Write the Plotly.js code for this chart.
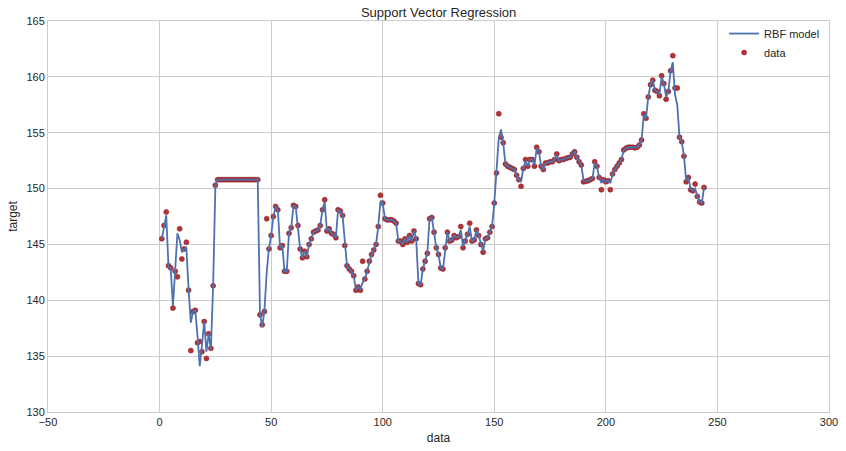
<!DOCTYPE html>
<html>
<head>
<meta charset="utf-8">
<script src="https://cdn.plot.ly/plotly-3.0.1.min.js"></script>
<style>html,body{margin:0;padding:0;background:#fff;}#chart{width:846px;height:451px;}</style>
</head>
<body>
<div id="chart"></div>
<script>
// x index of each sample
const xIndex = Array.from({length: 244}, (_, i) => i + 1);

// observed target values ("data")
const dataValues = [
145.5,146.7,147.9,143.1,142.9,139.3,142.6,142.1,146.4,143.7,
144.6,145.2,140.9,135.5,139.0,139.1,136.2,136.3,135.4,138.1,
134.8,137.0,135.7,141.3,150.3,150.8,150.8,150.8,150.8,150.8,
150.8,150.8,150.8,150.8,150.8,150.8,150.8,150.8,150.8,150.8,
150.8,150.8,150.8,150.8,138.7,137.8,139.0,147.3,144.6,145.8,
147.5,148.4,148.1,144.7,144.9,142.6,142.6,146.0,146.5,148.5,
148.4,146.7,144.6,143.8,144.4,143.9,145.0,145.5,146.1,146.2,
146.3,146.7,148.1,149.0,146.2,146.4,146.0,145.9,145.6,148.1,
148.0,147.6,144.9,143.1,142.8,142.6,142.2,140.9,141.2,140.9,
143.5,141.9,142.6,143.5,144.1,144.5,145.0,146.6,149.4,148.7,
147.3,147.2,147.2,147.2,147.1,146.9,145.3,145.3,145.0,145.5,
145.2,145.8,145.3,146.2,145.5,141.5,141.4,142.8,143.5,144.2,
147.3,147.4,146.1,144.7,144.1,142.9,142.8,144.7,146.1,145.3,
145.4,145.8,145.6,145.7,146.6,144.7,145.3,145.9,146.9,145.3,
145.4,146.3,145.8,145.0,144.3,145.5,145.6,146.1,146.6,148.7,
151.4,156.7,154.6,154.1,152.2,152.0,151.9,151.8,151.7,151.2,
150.8,150.2,151.8,152.6,152.0,152.6,152.6,152.0,153.7,153.3,
152.0,151.7,152.3,152.3,152.4,152.4,152.6,153.1,152.5,152.6,
152.6,152.7,152.75,152.8,153.1,153.3,152.8,152.4,152.1,150.6,
150.65,150.7,150.8,150.9,152.4,152.0,151.0,149.9,150.8,150.6,
150.7,149.9,151.3,151.7,152.0,152.3,152.6,153.45,153.6,153.7,
153.7,153.7,153.65,153.7,153.9,154.35,156.7,156.3,158.2,159.3,
159.7,158.8,158.7,158.3,160.1,159.4,158.0,158.7,160.55,161.9,
159.0,159.0,154.6,154.2,152.9,150.6,151.0,149.9,149.8,150.4,
149.3,148.8,148.7,150.1
];

// RBF model prediction at each sample
const modelValues = [
145.5,146.5,147.6,143.0,142.8,139.5,142.7,146.0,145.4,144.3,
144.6,144.7,141.0,138.0,139.0,139.1,136.8,134.1,136.0,138.1,
135.4,137.0,135.6,141.3,150.2,150.8,150.8,150.8,150.8,150.8,
150.8,150.8,150.8,150.8,150.8,150.8,150.8,150.8,150.8,150.8,
150.8,150.8,150.8,150.8,138.8,137.6,139.1,142.5,144.6,145.8,
147.5,148.4,148.1,144.7,144.9,142.6,142.6,146.0,146.5,148.5,
148.4,146.7,144.6,143.8,144.4,143.9,145.0,145.5,146.1,146.2,
146.3,146.7,148.1,148.8,146.2,146.4,146.0,145.9,145.6,148.1,
148.0,147.6,144.9,143.1,142.8,142.6,142.2,140.9,141.2,141.0,
141.6,141.9,142.6,143.5,144.1,144.5,145.0,146.6,148.9,148.7,
147.3,147.2,147.2,147.2,147.1,146.9,145.3,145.3,145.0,145.5,
145.2,145.8,145.3,146.2,145.5,141.5,141.4,142.8,143.5,144.2,
147.3,147.4,146.1,144.7,144.1,142.9,142.8,144.7,146.1,145.3,
145.4,145.8,145.6,145.7,146.3,144.8,145.3,145.9,146.6,145.3,
145.4,146.3,145.8,145.0,144.4,145.5,145.6,146.1,146.6,148.7,
151.3,154.5,155.3,154.1,152.2,152.0,151.9,151.8,151.7,151.2,
150.8,150.6,151.8,152.5,152.0,152.6,152.6,152.1,153.6,153.3,
152.0,151.7,152.3,152.3,152.4,152.4,152.6,153.0,152.5,152.6,
152.6,152.7,152.75,152.8,153.1,153.3,152.8,152.4,152.1,150.7,
150.65,150.7,150.8,150.9,152.3,152.0,151.0,150.5,150.8,150.6,
150.7,150.5,151.3,151.7,152.0,152.3,152.6,153.45,153.6,153.7,
153.7,153.7,153.65,153.7,153.9,154.35,156.6,156.3,158.2,159.3,
159.7,158.8,158.7,158.4,160.0,159.4,158.2,158.7,160.5,161.3,
158.4,157.5,154.6,154.2,152.9,150.7,151.0,150.0,149.8,150.0,
149.3,148.8,148.7,150.1
];

const xTicks = [-50, 0, 50, 100, 150, 200, 250, 300];
const yTicks = [130, 135, 140, 145, 150, 155, 160, 165];

const font = 'Liberation Sans, Arial, sans-serif';

const traces = [
  {
    x: xIndex, y: dataValues, type: 'scatter', mode: 'markers', name: 'data',
    legendrank: 2,
    marker: {color: '#b8302f', size: 5, line: {color: '#8a2630', width: 0.6}}
  },
  {
    x: xIndex, y: modelValues, type: 'scatter', mode: 'lines', name: 'RBF model',
    legendrank: 1,
    line: {color: '#4c72b0', width: 1.8}
  }
];

const layout = {
  width: 846, height: 451,
  margin: {l: 48, r: 17, t: 21, b: 39, pad: 0},
  paper_bgcolor: '#ffffff', plot_bgcolor: '#ffffff',
  font: {family: font, size: 11, color: '#262626'},
  title: {text: 'Support Vector Regression', font: {family: font, size: 13, color: '#262626'},
          x: 0.5185, xanchor: 'center', y: 0.972, yanchor: 'middle', yref: 'container'},
  showlegend: true,
  legend: {x: 0.995, xanchor: 'right', y: 1.005, yanchor: 'top', bgcolor: 'rgba(0,0,0,0)',
           font: {family: font, size: 11, color: '#262626'}, tracegroupgap: 0, itemwidth: 30},
  xaxis: {
    range: [-50, 300], tickvals: xTicks, ticktext: xTicks.map(v => v < 0 ? '\u2212' + Math.abs(v) : String(v)),
    showgrid: true, gridcolor: '#cccccc', gridwidth: 1, zeroline: false,
    showline: true, linecolor: '#cccccc', mirror: true, ticks: '', ticklen: 0,
    tickfont: {family: font, size: 11, color: '#262626'},
    title: {text: 'data', font: {family: font, size: 12, color: '#262626'}, standoff: 6}
  },
  yaxis: {
    range: [130, 165], tickvals: yTicks,
    showgrid: true, gridcolor: '#cccccc', gridwidth: 1, zeroline: false,
    showline: true, linecolor: '#cccccc', mirror: true, ticks: '', ticklen: 0,
    tickfont: {family: font, size: 11, color: '#262626'},
    title: {text: 'target', font: {family: font, size: 12, color: '#262626'}, standoff: 6}
  }
};

Plotly.newPlot('chart', traces, layout, {displayModeBar: false, staticPlot: true});
</script>
</body>
</html>
